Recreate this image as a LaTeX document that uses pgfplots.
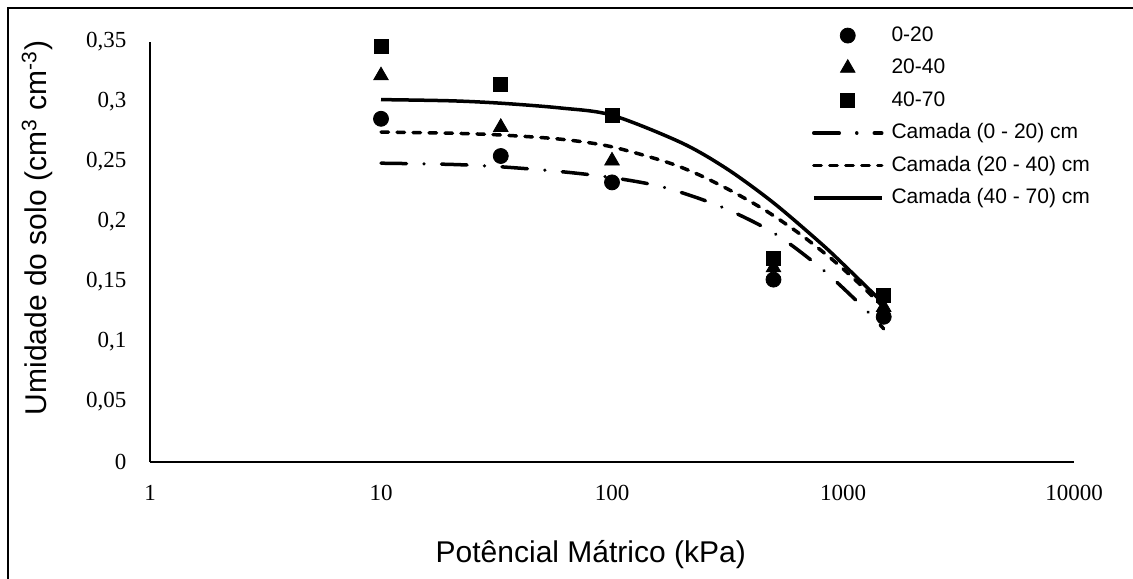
\documentclass[border=0pt]{standalone}
\usepackage{pgfplots}
\pgfplotsset{compat=1.18}
\usepackage{fontspec}
\setmainfont{Liberation Serif}
\newfontfamily\arial{Liberation Sans}

% pontos medidos
\pgfplotstableread{
x y
10 0.286
33 0.255
100 0.233
500 0.152
1500 0.121
}\camadaA
\pgfplotstableread{
x y
10 0.322
33 0.279
100 0.251
500 0.162
1500 0.129
}\camadaB
\pgfplotstableread{
x y
10 0.346
33 0.315
100 0.289
500 0.170
1500 0.139
}\camadaC

\begin{document}
\begin{tikzpicture}
\useasboundingbox (0,0) rectangle (566.5pt,289pt);
\draw[line width=1pt] (4pt,-5pt) -- (4pt,285pt) -- (575pt,285pt);
\begin{axis}[
    at={(75pt,58pt)}, anchor=south west,
    scale only axis, width=462pt, height=210pt,
    xmode=log, xmin=1, xmax=10000, ymin=0, ymax=0.35,
    axis x line=bottom, axis y line=left,
    axis line style={-, line width=0.9pt},
    tick style={draw=none}, xminorticks=false,
    xtick={1,10,100,1000,10000},
    xticklabels={1,10,100,1000,10000},
    ytick={0,0.05,0.1,0.15,0.2,0.25,0.3,0.35},
    yticklabels={0,{0,05},{0,1},{0,15},{0,2},{0,25},{0,3},{0,35}},
    tick label style={font=\fontsize{11.5}{13}\selectfont},
    xticklabel style={yshift=-6pt},
    yticklabel style={xshift=-6.2pt},
    xlabel={Potêncial Mátrico (kPa)},
    ylabel={Umidade do solo (cm\textsuperscript{3} cm\textsuperscript{-3})},
    label style={font=\arial\fontsize{15}{18}\selectfont},
    xlabel style={at={(axis description cs:0.477,-0.221)}, anchor=center},
    ylabel style={at={(axis description cs:-0.122,0.557)}, anchor=center},
    legend image code/.code={\draw[mark repeat=2,mark phase=2,#1] plot coordinates {(0pt,0pt) (17pt,0pt) (34pt,0pt)};},
    legend style={draw=none, fill=none, at={(axis description cs:0.716,1.046)}, anchor=north west,
        inner sep=0pt, row sep=3.75pt, column sep=3pt, font=\arial\fontsize{10.5}{12}\selectfont,
        nodes={inner sep=1pt, text height=8pt, text depth=2.5pt}},
    legend cell align=left,
    clip=false,
]
\addplot[only marks, mark=*, mark size=3.75pt, black] table {\camadaA};
\addplot[only marks, mark=triangle*, mark size=4.2pt, black] table {\camadaB};
\addplot[only marks, mark=square*, mark size=3.5pt, black] table {\camadaC};
\addplot[black, line width=1.75pt, smooth, line cap=round,
    dash pattern=on 12.75pt off 8.75pt on 0.01pt off 8.75pt] coordinates {
    (10,0.249) (20,0.248) (33,0.246) (60,0.242) (100,0.237) (167,0.229)
    (294,0.213) (500,0.191) (809,0.161) (1237,0.128) (1500,0.111)};
\addplot[black, line width=1.75pt, smooth, line cap=round,
    dash pattern=on 3.75pt off 4.25pt] coordinates {
    (10,0.275) (20,0.274) (33,0.2725) (60,0.269) (98,0.263) (172,0.250)
    (240,0.239) (335,0.225) (467,0.209) (651,0.190) (908,0.168)
    (1185,0.148) (1500,0.129)};
\addplot[black, line width=1.75pt, smooth] coordinates {
    (10,0.302) (20,0.301) (33,0.299) (60,0.295) (100,0.289) (200,0.266)
    (316,0.244) (500,0.216) (794,0.183) (1000,0.165) (1500,0.132)};
\legend{0-20, 20-40, 40-70, Camada (0 - 20) cm, Camada (20 - 40) cm, Camada (40 - 70) cm}
\end{axis}
\end{tikzpicture}
\end{document}
